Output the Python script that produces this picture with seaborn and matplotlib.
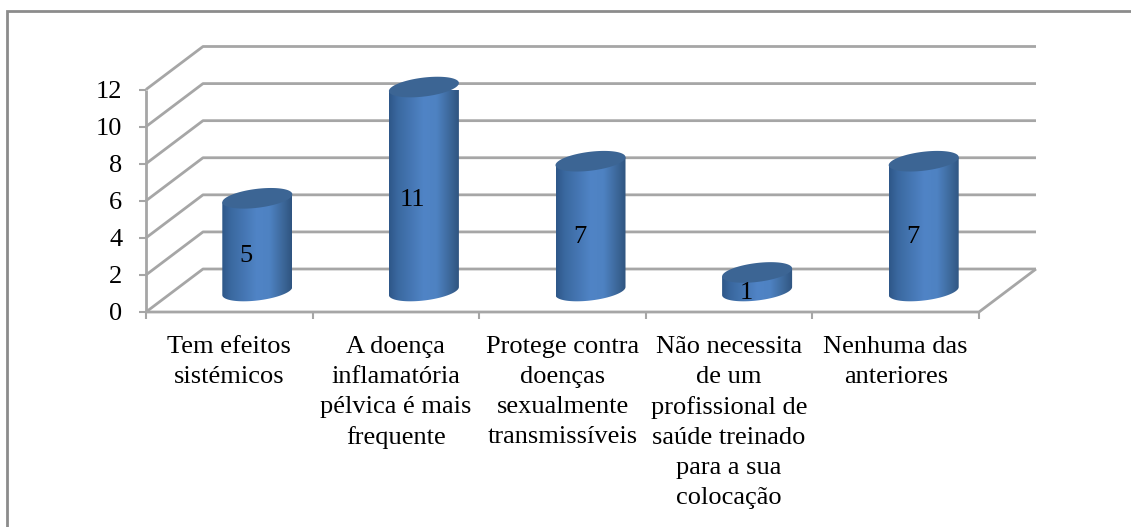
import numpy as np
import pandas as pd
import matplotlib
matplotlib.use("Agg")
import matplotlib.pyplot as plt
from matplotlib.path import Path
from matplotlib.patches import PathPatch
from matplotlib.colors import LinearSegmentedColormap
import seaborn as sns

categories = ["Tem efeitos\nsistémicos",
              "A doença\ninflamatória\npélvica é mais\nfrequente",
              "Protege contra\ndoenças\nsexualmente\ntransmissíveis",
              "Não necessita\nde um\nprofissional de\nsaúde treinado\npara a sua\ncolocação",
              "Nenhuma das\nanteriores"]
values = [5, 11, 7, 1, 7]
yticks = [0, 2, 4, 6, 8, 10, 12]

W, H = 1131, 527
sns.set_style("white")
plt.rcParams["font.family"] = ["Liberation Serif", "DejaVu Serif"]
plt.rcParams["text.color"] = "black"
fig = plt.figure(figsize=(W/100, H/100), dpi=100, facecolor="white")
L, R, T, B = 146, 979, 89.5, 312
ax = fig.add_axes([L/W, 1-B/H, (R-L)/W, (B-T)/H])
df = pd.DataFrame({"cat": categories, "val": values})
sns.barplot(data=df, x="cat", y="val", width=0.42, ax=ax, color="#4F81BD", saturation=1)
ax.set_xlim(-0.5, 4.5)
ax.set_ylim(0, 12)
ax.set_xlabel(""); ax.set_ylabel("")
for s in ax.spines.values():
    s.set_visible(False)
ax.patch.set_alpha(0)

GRID = "#A6A6A6"
FS = 19
ax.set_yticks(yticks)
ax.set_xticks(np.arange(-0.5, 5))
ax.set_xticklabels([""]*6)
ax.set_xticks(range(5), labels=categories, minor=True)
ax.tick_params(axis="x", which="minor", length=0, pad=17, labelsize=FS, labelcolor="black")
ax.tick_params(axis="x", which="major", length=5, width=1.5, color=GRID, bottom=True)
ax.tick_params(axis="y", length=5, width=1.5, color=GRID, left=True, labelsize=FS, pad=12, labelcolor="black")
for t in ax.get_xminorticklabels():
    t.set_linespacing(1.47)
    t.set_verticalalignment("top")

sx, sy = 5/(R-L), 12/(B-T)   # data units per pixel


def wall_line(xs, ys):
    ax.plot(xs, ys, color=GRID, lw=2, clip_on=False, zorder=1, solid_capstyle="butt")


DX, DY = 57, 43
for v in yticks:
    wall_line([-0.5, -0.5+DX*sx, 4.5+DX*sx], [v, v+DY*sy, v+DY*sy])
wall_line([-0.5, -0.5], [0, 12])
wall_line([-0.5, 4.5, 4.5+DX*sx], [0, 0, DY*sy])

cmap = LinearSegmentedColormap.from_list("cyl", [(0, "#2E5788"), (0.12, "#3A689F"), (0.5, "#5084C6"),
                                                  (0.68, "#4E82C2"), (0.88, "#3C6798"), (1, "#2F5480")])
grad = np.linspace(0, 1, 256)[None, :]
MX, MY = 28*sx, 21*sy
A = 35*sx
Bb, SH = 9.5*sy, 4*sy
t = np.linspace(0, 2*np.pi, 121)

for bar, v in zip(list(ax.patches), values):
    cx = bar.get_x()+bar.get_width()/2+MX
    top = bar.get_height()+MY
    bot = MY
    bar.set_visible(False)
    tl = np.linspace(np.pi, 2*np.pi, 60)
    bx = cx+A*np.cos(tl)
    by = bot+Bb*np.sin(tl)+SH*np.cos(tl)
    verts = np.r_[[[cx-A, top-SH]], np.c_[bx, by], [[cx+A, top+SH]], [[cx-A, top-SH]]]
    clip = PathPatch(Path(verts), transform=ax.transData, fc="none", ec="none")
    ax.add_patch(clip)
    im = ax.imshow(grad, extent=(cx-A, cx+A, bot-2, top+2), cmap=cmap, aspect="auto", zorder=3,
                   interpolation="bilinear", origin="lower")
    im.set_clip_path(clip)
    cap = np.c_[cx+A*np.cos(t), top+Bb*np.sin(t)+SH*np.cos(t)]
    ax.add_patch(PathPatch(Path(cap), fc="#3C6594", ec="none", zorder=4, clip_on=False))
    ax.text(cx-11*sx, bot+v/2-11*sy, str(v), ha="center", va="center", fontsize=FS, color="black", zorder=5)
ax.set_xlim(-0.5, 4.5)
ax.set_ylim(0, 12)

# outer frame: left and top edges only
FC = "#8C8C8C"
fig.add_artist(plt.Line2D([6.5/W, 6.5/W, 1], [0, 1-11/H, 1-11/H], color=FC, lw=2,
                          transform=fig.transFigure, solid_joinstyle="miter"))
fig.savefig("out.png", dpi=100)
